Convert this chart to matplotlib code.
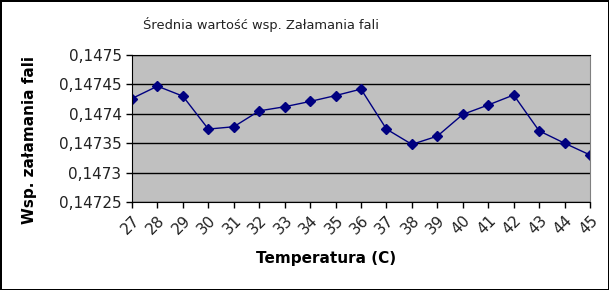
from matplotlib import pyplot as plt
from matplotlib.ticker import FuncFormatter, MultipleLocator

# data
temperatures = [27, 28, 29, 30, 31, 32, 33, 34, 35, 36, 37, 38, 39, 40, 41, 42, 43, 44, 45]
refr_index = [
    0.147426, 0.147447, 0.147430, 0.147374, 0.147378, 0.147405, 0.147412,
    0.147421, 0.147431, 0.147442, 0.147374, 0.147348, 0.147362, 0.147399,
    0.147415, 0.147432, 0.147371, 0.147350, 0.147330,
]
title = "Średnia wartość wsp. Załamania fali"
x_label = "Temperatura (C)"
y_label = "Wsp. załamania fali"


def comma_fmt(v, pos):
    s = f"{v:.5f}".rstrip("0").rstrip(".")
    return s.replace(".", ",")


fig = plt.figure(figsize=(6.09, 2.9), dpi=100)
fig.patch.set_facecolor("white")
fig.patch.set_edgecolor("black")
fig.patch.set_linewidth(2)

ax = fig.add_axes([132 / 609, 88 / 290, 458 / 609, 147 / 290])
ax.set_facecolor("#c0c0c0")
pos = list(range(len(temperatures)))
ax.plot(pos, refr_index, color="#000080", marker="D", markersize=5.5, linewidth=1)

ax.set_xlim(0, len(temperatures) - 1)
ax.set_ylim(0.14725, 0.1475)
ax.yaxis.set_major_locator(MultipleLocator(0.00005))
ax.yaxis.set_major_formatter(FuncFormatter(comma_fmt))
ax.grid(axis="y", color="black", linewidth=1)
ax.set_axisbelow(True)

ax.set_xticks(pos)
ax.set_xticklabels([str(t) for t in temperatures], rotation=45, ha="right",
                   rotation_mode="anchor", fontsize=11, color="#222222")
ax.tick_params(axis="y", labelsize=11, labelcolor="#222222", length=4, width=1)
ax.tick_params(axis="x", length=4, width=1)
for side in ["left", "bottom", "top"]:
    ax.spines[side].set_color("black")
ax.spines["right"].set_color("#808080")

fig.text(261 / 609, 1 - 24 / 290, title, ha="center", va="center", fontsize=9.4,
         color="#222222")
fig.text(326 / 609, 1 - 259 / 290, x_label, ha="center", va="center", fontsize=11,
         fontweight="bold")
fig.text(30 / 609, 1 - 140 / 290, y_label, ha="center", va="center", fontsize=11,
         fontweight="bold", rotation=90)

fig.savefig("out.png", dpi=100)
plt.close(fig)
